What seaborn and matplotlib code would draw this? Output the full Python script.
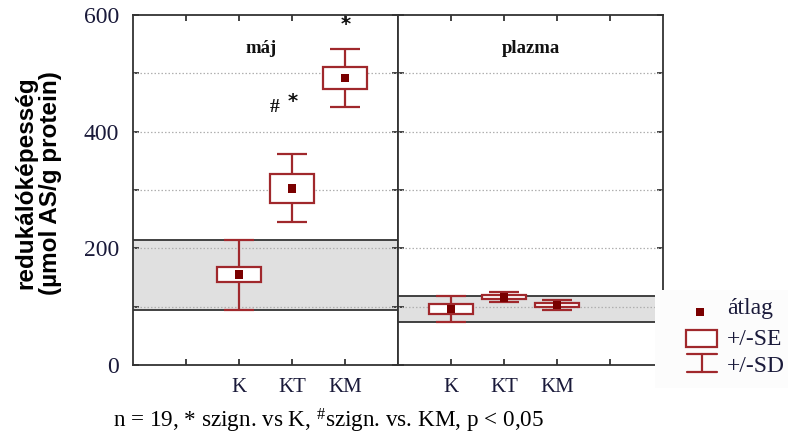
import numpy as np
import pandas as pd
import matplotlib
matplotlib.use("Agg")
import matplotlib.pyplot as plt
import seaborn as sns

# ---------------- data ----------------
groups = ["K", "KT", "KM"]
liver_mean = [155, 303, 492]
liver_se = [13, 25, 19]
liver_sd = [60, 58, 49]
plasma_mean = [96, 116, 103]
plasma_se = [8.5, 3.5, 3.5]
plasma_sd = [23, 8.5, 9]
panel_titles = ["máj", "plazma"]
y_ticks = [0, 100, 200, 300, 400, 500, 600]
y_ticklabels = ["0", "", "200", "", "400", "", "600"]
y_grid = [100, 200, 300, 400, 500]
legend_labels = ["átlag", "+/-SE", "+/-SD"]
ylabel = "redukálóképesség\n(µmol AS/g protein)"
caption = r"n = 19, * szign. vs K, ${}^{\#}$szign. vs. KM, p < 0,05"
# significance marks on the liver panel: (text, group, value)
sig_marks = [("#", "KT", 442), ("*", "KT", 451), ("*", "KM", 583)]

# ---------------- style ----------------
sns.set_style("ticks")
plt.rcParams["font.family"] = ["Liberation Serif", "DejaVu Serif"]
plt.rcParams["mathtext.fontset"] = "custom"
plt.rcParams["mathtext.rm"] = "Liberation Serif"
plt.rcParams["mathtext.it"] = "Liberation Serif:italic"
plt.rcParams["mathtext.bf"] = "Liberation Serif:bold"

RED = "#a0282c"
MEAN_C = "#7a0000"
BAND = "#e0e0e0"
SPINE = "#333333"
TXT = "#1a1a3a"

W, H = 788, 440
fig = plt.figure(figsize=(W / 100, H / 100), dpi=100)
fig.patch.set_facecolor("white")

ax_l = 133 / W
ax_w = 265 / W
ax_b = (H - 365) / H
ax_h = 350 / H
axL = fig.add_axes([ax_l, ax_b, ax_w, ax_h])
axR = fig.add_axes([ax_l + ax_w, ax_b, ax_w, ax_h], sharey=axL)

panels = [
    (axL, liver_mean, liver_se, liver_sd, 2, ["", "K", "KT", "KM"]),
    (axR, plasma_mean, plasma_se, plasma_sd, 1, ["K", "KT", "KM", ""]),
]

for i, (ax, mean, se, sd, start, xlabels) in enumerate(panels):
    mean = np.array(mean, float)
    se = np.array(se, float)
    sd = np.array(sd, float)
    pos = np.arange(len(groups)) + start
    df = pd.DataFrame({"group": groups, "pos": pos, "mean": mean})

    # control band (K mean +/- SD)
    ax.axhspan(mean[0] - sd[0], mean[0] + sd[0], color=BAND, zorder=0.5, lw=0)
    for yb in (mean[0] - sd[0], mean[0] + sd[0]):
        ax.axhline(yb, color=SPINE, lw=1.3, zorder=2)
    # dotted grid
    for g in y_grid:
        ax.axhline(g, color="#b0b0b0", lw=0.9, ls=(0, (1.2, 1.6)), zorder=1)

    # SD whiskers
    ax.errorbar(pos, mean, yerr=sd, fmt="none", ecolor=RED, elinewidth=1.6,
                capsize=11, capthick=1.6, zorder=2.6)
    # SE boxes
    ax.bar(pos, 2 * se, bottom=mean - se, width=0.83, facecolor="white",
           edgecolor=RED, linewidth=1.6, zorder=3)
    # means
    sns.scatterplot(data=df, x="pos", y="mean", marker="s", s=40,
                    color=MEAN_C, edgecolor="none", zorder=4, ax=ax,
                    legend=False)

    ax.set_xlim(0, 5)
    ax.set_ylim(0, 600)
    ax.set_xlabel("")
    ax.set_ylabel("")
    ax.set_xticks([1, 2, 3, 4])
    ax.set_xticklabels(xlabels, fontsize=15, color=TXT)
    ax.set_yticks(y_ticks)
    ax.tick_params(direction="in", top=True, right=True, length=4,
                   width=1.2, color="#222222")
    ax.tick_params(axis="x", pad=9)
    for s in ax.spines.values():
        s.set_color(SPINE)
        s.set_linewidth(1.3)
    ax.text(0.5 if i == 1 else 0.485, 0.905, panel_titles[i],
            transform=ax.transAxes, ha="center", va="center",
            fontsize=13.5, fontweight="bold", color="#111111")

axL.set_yticklabels(y_ticklabels, fontsize=17, color=TXT)
axL.tick_params(axis="y", pad=10)
plt.setp(axR.get_yticklabels(), visible=False)

# significance marks
for txt, grp, val in sig_marks:
    gx = groups.index(grp) + 2
    dx = -0.32 if txt == "#" else 0.02
    axL.text(gx + dx, val, txt, ha="center", va="center", fontsize=14,
             fontweight="bold", color="#111111", zorder=5,
             family=["DejaVu Sans"] if txt == "*" else None)

# y label
fig.text(38 / W, 1 - 183 / H, ylabel, rotation=90, ha="center", va="center",
         fontsize=17.5, fontweight="bold", family=["Liberation Sans"],
         linespacing=1.08, color="black")

# caption
fig.text(113 / W, 1 - 421 / H, caption, ha="left", va="center", fontsize=16.7,
         color="black")

# legend (manual)
lg = fig.add_axes([655 / W, (H - 388) / H, 133 / W, 98 / H])
lg.set_xlim(655, 788)
lg.set_ylim(388, 290)
lg.set_facecolor("#fcfcfc")
for s in lg.spines.values():
    s.set_visible(False)
lg.set_xticks([])
lg.set_yticks([])
lg.scatter([700], [312], marker="s", s=40, color=MEAN_C, edgecolor="none")
lg.add_patch(plt.Rectangle((686, 330), 31, 17, facecolor="white",
                           edgecolor=RED, lw=1.6))
lg.plot([687, 717], [354, 354], color=RED, lw=1.6)
lg.plot([687, 717], [372, 372], color=RED, lw=1.6)
lg.plot([702, 702], [354, 372], color=RED, lw=1.6)
for lab, yy in zip(legend_labels, [308, 339, 366]):
    lg.text(727, yy, lab, ha="left", va="center", fontsize=17, color=TXT)

fig.savefig("out.png", dpi=100)
